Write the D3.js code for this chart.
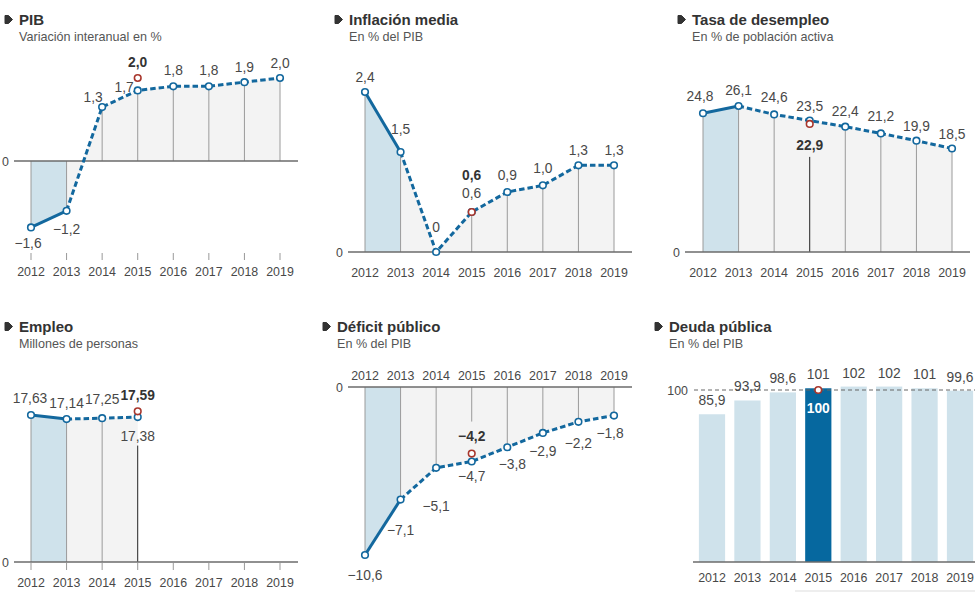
<!DOCTYPE html>
<html>
<head>
<meta charset="utf-8">
<script src="https://cdn.jsdelivr.net/npm/d3@7"></script>
<style>
  body { margin: 0; background: #fff; }
  svg { display: block; }
  text { font-family: "Liberation Sans", Arial, Helvetica, sans-serif; }
</style>
</head>
<body>
<svg id="chart" width="980" height="592"></svg>
<script>
/* Previsiones macro 2012-2019: six small multiples.
   Solid segment = observed (2012-2013), dashed = forecast.
   Red circle = alternative 2015 figure (bold label).                */
var years = [2012, 2013, 2014, 2015, 2016, 2017, 2018, 2019];

var pibValues = [-1.6, -1.2, 1.3, 1.7, 1.8, 1.8, 1.9, 2.0];
var pibRef = 2.0;

var inflacionValues = [2.4, 1.5, 0, 0.6, 0.9, 1.0, 1.3, 1.3];
var inflacionRef = 0.6;

var paroValues = [24.8, 26.1, 24.6, 23.5, 22.4, 21.2, 19.9, 18.5];
var paroRef = 22.9;

var empleoValues = [17.63, 17.14, 17.25, 17.38];
var empleoRef = 17.59;

var deficitValues = [-10.6, -7.1, -5.1, -4.7, -3.8, -2.9, -2.2, -1.8];
var deficitRef = -4.2;

var deudaValues = [85.9, 93.9, 98.6, 101, 102, 102, 101, 99.6];
var deudaRef = 100;

var panelTitles = ['PIB', 'Inflación media', 'Tasa de desempleo', 'Empleo', 'Déficit público', 'Deuda pública'];
var panelSubtitles = ['Variación interanual en %', 'En % del PIB', 'En % de población activa',
  'Millones de personas', 'En % del PIB', 'En % del PIB'];

(function () {
  'use strict';

  var C = {
    line: '#13689e',
    blueFill: '#cfe2eb',
    grayFill: '#f3f3f3',
    guide: '#9a9a9a',
    axis: '#6b6b6b',
    red: '#a8362c',
    text: '#484848',
    title: '#333',
    bar: '#cfe2eb',
    barHi: '#06689f'
  };
  var LABEL_PX = '13.8px';
  var YEAR_PX = '12.4px';

  var svg = d3.select('#chart');

  function fmt(v, d) {
    var s = v === 0 ? '0' : Math.abs(v).toFixed(d).replace('.', ',');
    return (v < 0 ? '\u2212' : '') + s;
  }

  /* Panel header: little arrow marker + bold title + grey subtitle */
  function header(x, y, title, sub) {
    var g = svg.append('g');
    g.append('path')
      .attr('d', 'M' + (x - 14) + ',' + (y - 9.5) + 'h3.5l4,4l-4,4h-3.5z')
      .attr('fill', C.title).attr('stroke', C.title)
      .attr('stroke-width', 1).attr('stroke-linejoin', 'round');
    g.append('text').attr('x', x).attr('y', y)
      .style('font-size', '15px').style('font-weight', 'bold').style('fill', C.title)
      .text(title);
    g.append('text').attr('x', x).attr('y', y + 16)
      .style('font-size', '12.6px').style('fill', '#555')
      .text(sub);
  }

  /* Line panel with shaded areas down to the zero line */
  function linePanel(cfg) {
    var g = svg.append('g');
    var x = d3.scalePoint().domain(years).range(cfg.xRange);
    var y = d3.scaleLinear().domain(cfg.yDomain).range(cfg.yRange);
    var pts = cfg.values.map(function (v, i) { return { year: years[i], v: v, i: i }; });
    var ri = 3; /* 2015 */

    var area = d3.area()
      .x(function (d) { return x(d.year); })
      .y0(y(0))
      .y1(function (d) { return y(d.v); });
    var line = d3.line()
      .x(function (d) { return x(d.year); })
      .y(function (d) { return y(d.v); });

    g.append('path').attr('d', area(pts.slice(0, 2))).attr('fill', C.blueFill);
    g.append('path').attr('d', area(pts.slice(1))).attr('fill', C.grayFill);

    /* label baselines, needed for the 2015 leader line */
    var refY = y(cfg.ref) + (cfg.refNudge || 0);
    var refLabelY = refY + cfg.refLabelDy;
    var valLabelY = pts.map(function (d, i) { return y(d.v) + cfg.labels[i][1]; });

    /* vertical guides */
    pts.forEach(function (d, i) {
      if (cfg.guide && i === ri) return;
      g.append('line')
        .attr('x1', x(d.year)).attr('x2', x(d.year))
        .attr('y1', y(0)).attr('y2', y(d.v))
        .attr('stroke', C.guide).attr('stroke-width', 1);
    });
    if (cfg.guide) {
      var base = cfg.guide.label === 'ref' ? refLabelY : valLabelY[ri];
      g.append('line')
        .attr('x1', x(years[ri])).attr('x2', x(years[ri]))
        .attr('y1', base + cfg.guide.offset).attr('y2', y(0))
        .attr('stroke', cfg.guide.color).attr('stroke-width', 1);
    }

    /* ticks under the zero line */
    if (cfg.ticks) {
      g.selectAll('.tick').data(years).enter().append('line')
        .attr('x1', function (d) { return x(d); }).attr('x2', function (d) { return x(d); })
        .attr('y1', cfg.ticks[0]).attr('y2', cfg.ticks[1])
        .attr('stroke', '#999').attr('stroke-width', 1);
    }

    /* zero line + label */
    g.append('line')
      .attr('x1', cfg.zeroX[0]).attr('x2', cfg.zeroX[1])
      .attr('y1', y(0)).attr('y2', y(0))
      .attr('stroke', C.axis).attr('stroke-width', 1.3);
    g.append('text')
      .attr('x', cfg.zeroX[0] - 5).attr('y', y(0) + 4.5)
      .attr('text-anchor', 'end')
      .style('font-size', YEAR_PX).style('fill', C.text)
      .text('0');

    /* year labels */
    g.selectAll('.yr').data(years).enter().append('text')
      .attr('x', function (d) { return x(d); }).attr('y', cfg.yearY)
      .attr('text-anchor', 'middle')
      .style('font-size', YEAR_PX).style('fill', C.text)
      .text(function (d) { return d; });

    /* lines: observed solid, forecast dashed */
    g.append('path').attr('d', line(pts.slice(0, 2)))
      .attr('fill', 'none').attr('stroke', C.line).attr('stroke-width', 3);
    g.append('path').attr('d', line(pts.slice(1)))
      .attr('fill', 'none').attr('stroke', C.line).attr('stroke-width', 3)
      .attr('stroke-dasharray', '5.5,3');

    g.selectAll('.pt').data(pts).enter().append('circle')
      .attr('cx', function (d) { return x(d.year); })
      .attr('cy', function (d) { return y(d.v); })
      .attr('r', 3.3).attr('fill', '#fff')
      .attr('stroke', C.line).attr('stroke-width', 1.6);

    g.append('circle')
      .attr('cx', x(years[ri])).attr('cy', refY)
      .attr('r', 3.3).attr('fill', '#fff')
      .attr('stroke', C.red).attr('stroke-width', 1.6);

    /* value labels */
    g.selectAll('.vl').data(pts).enter().append('text')
      .attr('x', function (d, i) { return x(d.year) + cfg.labels[i][0]; })
      .attr('y', function (d, i) { return valLabelY[i]; })
      .attr('text-anchor', function (d, i) { return cfg.labels[i][2] || 'middle'; })
      .style('font-size', LABEL_PX).style('fill', C.text)
      .text(function (d) { return fmt(d.v, cfg.decimals); });

    g.append('text')
      .attr('x', x(years[ri])).attr('y', refLabelY)
      .attr('text-anchor', 'middle')
      .style('font-size', LABEL_PX).style('font-weight', 'bold').style('fill', C.title)
      .text(fmt(cfg.ref, cfg.decimals));
  }

  /* ---------- Row 1 ---------- */
  header(19, 25, panelTitles[0], panelSubtitles[0]);
  linePanel({
    values: pibValues, ref: pibRef, decimals: 1,
    xRange: [31, 280], yDomain: [0, 2], yRange: [161, 78],
    zeroX: [14, 298], yearY: 276, ticks: [253, 260],
    labels: [[-3, 21], [0, 23], [-9, -5], [-4, 2, 'end'], [0, -11], [0, -11], [0, -10], [0, -10]],
    refLabelDy: -11.5
  });

  header(349, 25, panelTitles[1], panelSubtitles[1]);
  linePanel({
    values: inflacionValues, ref: inflacionRef, decimals: 1,
    xRange: [365, 614], yDomain: [0, 2.4], yRange: [252, 92],
    zeroX: [348, 632], yearY: 277, ticks: null,
    labels: [[0, -10.5], [0, -18], [0, -20], [0, -14.5], [0, -12.5], [0, -12], [0, -10], [0, -10]],
    refLabelDy: -32.5
  });

  header(692, 25, panelTitles[2], panelSubtitles[2]);
  linePanel({
    values: paroValues, ref: paroRef, decimals: 1,
    xRange: [703, 952], yDomain: [0, 26.1], yRange: [252, 106],
    zeroX: [685, 970], yearY: 277, ticks: null,
    labels: [[-3, -12], [0, -11.5], [0, -12], [0, -9.5], [0, -11], [0, -12], [0, -10], [0, -10]],
    refLabelDy: 26,
    guide: { label: 'ref', offset: 7, color: '#222' }
  });

  /* ---------- Row 2 ---------- */
  header(19, 332, panelTitles[3], panelSubtitles[3]);
  linePanel({
    values: empleoValues, ref: empleoRef, decimals: 2,
    xRange: [31, 280], yDomain: [0, 17.63], yRange: [562, 415],
    zeroX: [14, 298], yearY: 587, ticks: [563, 570],
    labels: [[-1, -12.5], [0, -11], [0, -13.7], [0, 23.5]],
    refNudge: -4, refLabelDy: -11,
    guide: { label: 'value', offset: 5, color: '#222' }
  });

  header(337, 332, panelTitles[4], panelSubtitles[4]);
  linePanel({
    values: deficitValues, ref: deficitRef, decimals: 1,
    xRange: [365, 614], yDomain: [0, -10.6], yRange: [387, 555],
    zeroX: [348, 632], yearY: 379.5, ticks: null,
    labels: [[0, 24.5], [0, 35], [0, 43], [0, 19.5], [5, 22], [0, 23], [0, 26], [-4, 22.5]],
    refLabelDy: -13,
    guide: { label: 'ref', offset: -19, color: C.guide }
  });

  /* ---------- Deuda: bars ---------- */
  header(669, 332, panelTitles[5], panelSubtitles[5]);
  (function () {
    var g = svg.append('g');
    var x = d3.scalePoint().domain(years).range([712, 960]);
    var y = d3.scaleLinear().domain([0, 100]).range([562, 390]);
    var bw = x.step() * 0.74;

    g.selectAll('.bar').data(deudaValues).enter().append('rect')
      .attr('x', function (d, i) { return x(years[i]) - bw / 2; })
      .attr('y', function (d) { return y(d); })
      .attr('width', bw)
      .attr('height', function (d) { return y(0) - y(d); })
      .attr('fill', function (d, i) { return i === 3 ? C.barHi : C.bar; });

    g.append('line')
      .attr('x1', 693).attr('x2', 975).attr('y1', y(0)).attr('y2', y(0))
      .attr('stroke', C.axis).attr('stroke-width', 1.3);

    g.append('line')
      .attr('x1', 694).attr('x2', 975).attr('y1', y(deudaRef)).attr('y2', y(deudaRef))
      .attr('stroke', '#666').attr('stroke-width', 1).attr('stroke-dasharray', '4,3');
    g.append('text')
      .attr('x', 688).attr('y', y(deudaRef) + 4.5).attr('text-anchor', 'end')
      .style('font-size', YEAR_PX).style('fill', C.text)
      .text(fmt(deudaRef, 0));

    g.selectAll('.vl').data(deudaValues).enter().append('text')
      .attr('x', function (d, i) { return x(years[i]); })
      .attr('y', function (d) { return y(d) - 9; })
      .attr('text-anchor', 'middle')
      .style('font-size', LABEL_PX).style('fill', C.text)
      .text(function (d) { return fmt(d, d >= 100 ? 0 : 1); });

    g.append('text')
      .attr('x', x(years[3])).attr('y', y(deudaRef) + 22.5)
      .attr('text-anchor', 'middle')
      .style('font-size', LABEL_PX).style('font-weight', 'bold').style('fill', '#fff')
      .text(fmt(deudaRef, 0));

    g.append('circle')
      .attr('cx', x(years[3])).attr('cy', y(deudaRef))
      .attr('r', 3.3).attr('fill', '#fff')
      .attr('stroke', C.red).attr('stroke-width', 1.6);

    g.selectAll('.yr').data(years).enter().append('text')
      .attr('x', function (d) { return x(d); }).attr('y', 581.5)
      .attr('text-anchor', 'middle')
      .style('font-size', YEAR_PX).style('fill', C.text)
      .text(function (d) { return d; });

    /* faint rule at the bottom edge */
    g.append('line')
      .attr('x1', 795).attr('x2', 975).attr('y1', 591).attr('y2', 591)
      .attr('stroke', '#ddd').attr('stroke-width', 1);
  })();
})();
</script>
</body>
</html>
